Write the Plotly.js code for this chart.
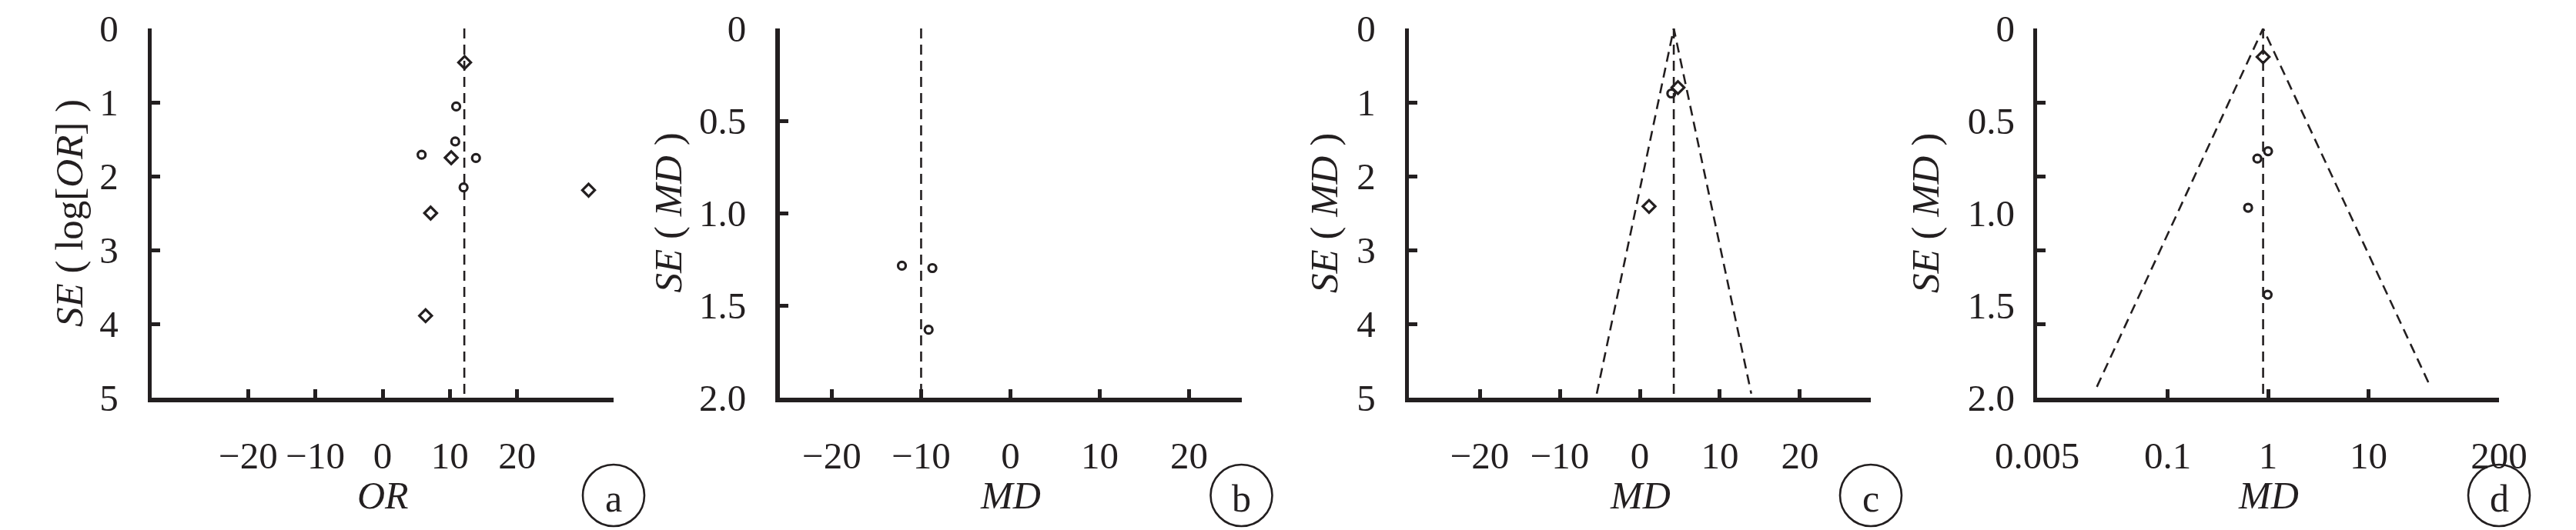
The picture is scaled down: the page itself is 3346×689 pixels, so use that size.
<!DOCTYPE html>
<html><head><meta charset="utf-8">
<script src="https://cdn.plot.ly/plotly-3.0.1.min.js"></script>
<style>html,body{margin:0;padding:0;background:#fff;}#chart{width:3346px;height:689px;}</style>
</head><body><div id="chart"></div>
<script>
// ---- Panel a (OR) ----
const aCircleX = [10.94, 10.8, 5.8, 13.88, 12.04];
const aCircleY = [1.056, 1.53, 1.71, 1.754, 2.153];
const aDiamondX = [12.2, 10.2, 30.63, 7.14, 6.39];
const aDiamondY = [0.46, 1.75, 2.19, 2.50, 3.89];
const aPooledX = [12.15, 12.15];
const aPooledY = [0, 5];
const aXTicks = [-20, -10, 0, 10, 20];
const aYTicks = [0, 1, 2, 3, 4, 5];

// ---- Panel b (MD) ----
const bCircleX = [-12.15, -8.74, -9.16];
const bCircleY = [1.285, 1.298, 1.632];
const bPooledX = [-10, -10];
const bPooledY = [0, 2];
const bXTicks = [-20, -10, 0, 10, 20];
const bYTicks = [0, 0.5, 1, 1.5, 2];
const bYTickText = ['0', '0.5', '1.0', '1.5', '2.0'];

// ---- Panel c (MD) ----
const cCircleX = [3.93];
const cCircleY = [0.88];
const cDiamondX = [4.76, 1.15];
const cDiamondY = [0.80, 2.41];
const cPooledX = [4.24, 4.24];
const cPooledY = [0, 5];
const cFunnelX = [-5.38, 4.24, 13.92];
const cFunnelY = [4.945, 0, 4.945];
const cXTicks = [-20, -10, 0, 10, 20];
const cYTicks = [0, 1, 2, 3, 4, 5];

// ---- Panel d (MD, log scale) ----
const dCircleX = [0.783, 1.0, 0.633, 0.99];
const dCircleY = [0.705, 0.665, 0.971, 1.442];
const dDiamondX = [0.893];
const dDiamondY = [0.154];
const dPooledX = [0.893, 0.893];
const dPooledY = [0, 2];
const dFunnelX = [0.0197, 0.893, 41.5];
const dFunnelY = [1.941, 0, 1.941];
const dXTicks = [0.005, 0.1, 1, 10, 200];
const dXTickText = ['0.005', '0.1', '1', '10', '200'];
const dYTickMarks = [0, 0.4, 0.8, 1.2, 1.6, 2.0];
const dYTicks = [0, 0.5, 1, 1.5, 2];
const dYTickText = ['0', '0.5', '1.0', '1.5', '2.0'];

const INK = '#231f20';
const FONT = 'Liberation Serif';
const W = 3346, H = 689;
const plotW = 600, plotTop = 37, plotBottom = 517;
const lefts = [197, 1012.5, 1830, 2646];
const ydom = [(H - plotBottom) / H, (H - plotTop) / H];

function xdom(i) { return [lefts[i] / W, (lefts[i] + plotW) / W]; }

const circleMk = {symbol: 'circle-open', size: 10, color: INK, line: {width: 3.2, color: INK}};
const diamondMk = {symbol: 'diamond-open', size: 12.5, color: INK, line: {width: 3.2, color: INK}};
const dashLine = {color: INK, width: 2.6, dash: '13px,8px'};

function pts(x, y, mk, xa, ya) {
  return {type: 'scatter', mode: 'markers', x: x, y: y, marker: mk, xaxis: xa, yaxis: ya, cliponaxis: false, hoverinfo: 'skip'};
}
function ln(x, y, xa, ya) {
  return {type: 'scatter', mode: 'lines', x: x, y: y, line: dashLine, xaxis: xa, yaxis: ya, cliponaxis: false, hoverinfo: 'skip'};
}

const data = [
  ln(aPooledX, aPooledY, 'x', 'y'),
  pts(aCircleX, aCircleY, circleMk, 'x', 'y'),
  pts(aDiamondX, aDiamondY, diamondMk, 'x', 'y'),
  ln(bPooledX, bPooledY, 'x2', 'y2'),
  pts(bCircleX, bCircleY, circleMk, 'x2', 'y2'),
  ln(cPooledX, cPooledY, 'x3', 'y3'),
  ln(cFunnelX, cFunnelY, 'x3', 'y3'),
  pts(cCircleX, cCircleY, circleMk, 'x3', 'y3'),
  pts(cDiamondX, cDiamondY, diamondMk, 'x3', 'y3'),
  ln(dPooledX, dPooledY, 'x4', 'y5'),
  ln(dFunnelX, dFunnelY, 'x4', 'y5'),
  pts(dCircleX, dCircleY, circleMk, 'x4', 'y4'),
  pts(dDiamondX, dDiamondY, diamondMk, 'x4', 'y4')
];

const tickFont = {family: FONT, size: 49, color: INK};
function xaxis(i, range, vals, text, type) {
  const ax = {
    domain: xdom(i), range: range, autorange: false, anchor: i === 0 ? 'y' : 'y' + (i + 1),
    showline: true, linewidth: 5.5, linecolor: INK, mirror: false,
    ticks: 'inside', ticklen: 11, tickwidth: 5, tickcolor: INK,
    tickmode: 'array', tickvals: vals, tickfont: tickFont, ticklabelstandoff: 28,
    showgrid: false, zeroline: false, fixedrange: true
  };
  if (text) ax.ticktext = text;
  if (type) ax.type = type;
  return ax;
}
function yaxis(xanchor, range, vals, text, showlabels, ticks) {
  const ax = {
    domain: ydom, range: range, autorange: false, anchor: xanchor,
    showline: true, linewidth: 5.5, linecolor: INK, mirror: false,
    ticks: ticks, ticklen: 11, tickwidth: 5, tickcolor: INK,
    tickmode: 'array', tickvals: vals, tickfont: tickFont, ticklabelstandoff: 28,
    showticklabels: showlabels,
    showgrid: false, zeroline: false, fixedrange: true
  };
  if (text) ax.ticktext = text;
  return ax;
}

const layout = {
  width: W, height: H, margin: {l: 0, r: 0, t: 0, b: 0},
  paper_bgcolor: '#ffffff', plot_bgcolor: '#ffffff', showlegend: false,
  font: {family: FONT, color: INK},
  xaxis: xaxis(0, [-34.35, 34.35], aXTicks),
  yaxis: yaxis('x', [5, 0], aYTicks, null, true, 'inside'),
  xaxis2: xaxis(1, [-25.85, 25.85], bXTicks),
  yaxis2: yaxis('x2', [2, 0], bYTicks, bYTickText, true, 'inside'),
  xaxis3: xaxis(2, [-28.85, 28.85], cXTicks),
  yaxis3: yaxis('x3', [5, 0], cYTicks, null, true, 'inside'),
  xaxis4: xaxis(3, [Math.log10(0.005), Math.log10(200)], dXTicks, dXTickText, 'log'),
  yaxis4: yaxis('x4', [2, 0], dYTickMarks, null, false, 'inside'),
  yaxis5: Object.assign(yaxis('x4', [2, 0], dYTicks, dYTickText, true, ''), {overlaying: 'y4', showline: false}),
  shapes: [], annotations: []
};

const yTitles = ['<i>SE</i> ( log[<i>OR</i>] )', '<i>SE</i> ( <i>MD</i> )', '<i>SE</i> ( <i>MD</i> )', '<i>SE</i> ( <i>MD</i> )'];
const xTitles = ['<i>OR</i>', '<i>MD</i>', '<i>MD</i>', '<i>MD</i>'];
const letters = ['a', 'b', 'c', 'd'];
const yShift = [-107, -145, -110, -145];
for (let i = 0; i < 4; i++) {
  const xr = (i === 0 ? 'x' : 'x' + (i + 1)) + ' domain';
  const yr = (i === 0 ? 'y' : 'y' + (i + 1)) + ' domain';
  layout.annotations.push({xref: xr, yref: yr, x: 0, y: 0.5, xshift: yShift[i], text: yTitles[i], textangle: -90,
    showarrow: false, xanchor: 'center', yanchor: 'middle', font: {family: FONT, size: 51, color: INK}});
  layout.annotations.push({xref: xr, yref: yr, x: 0.5, y: 0, yshift: -127, text: xTitles[i],
    showarrow: false, xanchor: 'center', yanchor: 'middle', font: {family: FONT, size: 50, color: INK}});
  layout.annotations.push({xref: xr, yref: yr, x: 1, y: 0, yshift: -131, text: letters[i],
    showarrow: false, xanchor: 'center', yanchor: 'middle', font: {family: FONT, size: 50, color: INK}});
  layout.shapes.push({type: 'circle', xref: xr, yref: yr, xsizemode: 'pixel', ysizemode: 'pixel',
    xanchor: 1, yanchor: 0, x0: -40, x1: 40, y0: -167, y1: -87, line: {color: INK, width: 2.6}});
}

Plotly.newPlot('chart', data, layout, {staticPlot: true, displayModeBar: false});
</script></body></html>
